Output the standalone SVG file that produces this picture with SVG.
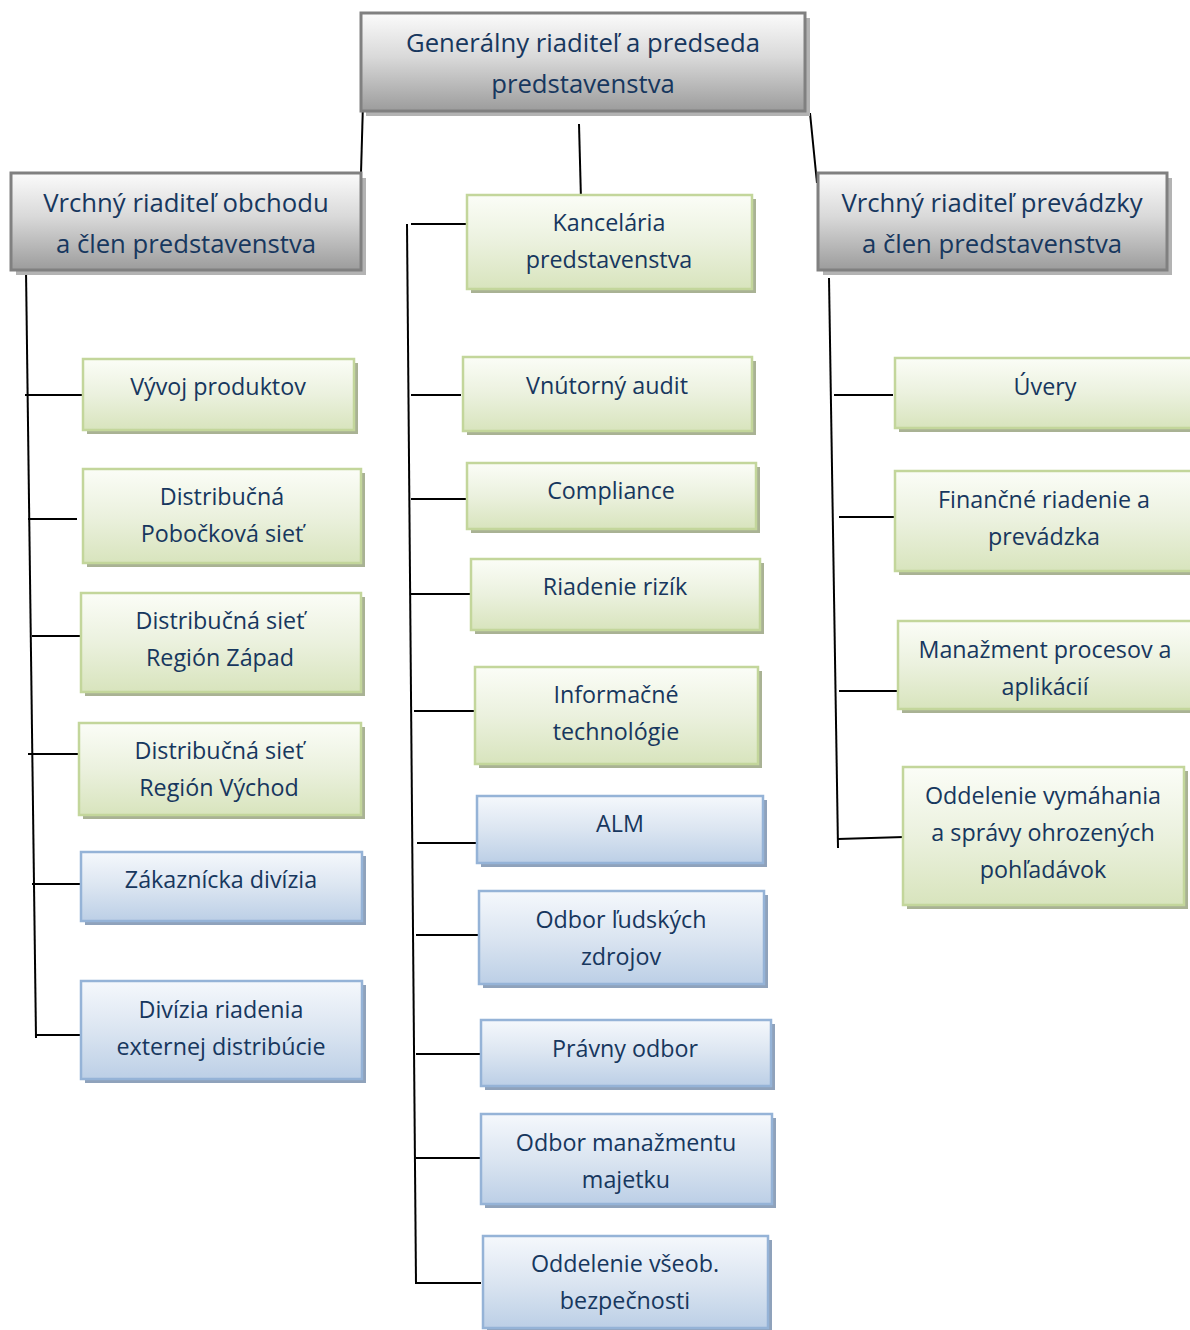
<svg xmlns="http://www.w3.org/2000/svg" width="1190" height="1330" viewBox="0 0 1190 1330">
<defs>
<linearGradient id="gGray" x1="0" y1="0" x2="0" y2="1">
<stop offset="0" stop-color="#fbfbfb"/><stop offset="0.45" stop-color="#d9d9d9"/><stop offset="1" stop-color="#9c9c9c"/>
</linearGradient>
<linearGradient id="gGreen" x1="0" y1="0" x2="0" y2="1">
<stop offset="0" stop-color="#fbfdf7"/><stop offset="0.5" stop-color="#ebf1de"/><stop offset="1" stop-color="#d8e4bd"/>
</linearGradient>
<linearGradient id="gBlue" x1="0" y1="0" x2="0" y2="1">
<stop offset="0" stop-color="#f5f8fc"/><stop offset="0.5" stop-color="#dbe5f1"/><stop offset="1" stop-color="#bccfe6"/>
</linearGradient>
</defs>
<style>
.t{font-family:"Open Sans","Noto Sans","Liberation Sans",sans-serif;fill:#17375e;text-anchor:middle;dominant-baseline:central}
.big{font-size:25.7px}
.sm{font-size:23.3px}
.gray{fill:url(#gGray);stroke:#808080;stroke-width:3}
.grayS{fill:#b3b3b3}
.green{fill:url(#gGreen);stroke:#c3d69b;stroke-width:2.5}
.greenS{fill:#a9b294}
.blue{fill:url(#gBlue);stroke:#95b3d7;stroke-width:2.5}
.blueS{fill:#8fa2bb}
.c{stroke:#000;stroke-width:2;fill:none}
</style>
<g id="connectors">
<line class="c" x1="363" y1="103" x2="361" y2="173"/>
<line class="c" x1="579" y1="124" x2="581" y2="200"/>
<line class="c" x1="810" y1="113" x2="817" y2="183"/>
<line class="c" x1="26" y1="270" x2="36" y2="1038"/>
<line class="c" x1="25" y1="395" x2="82" y2="395"/>
<line class="c" x1="28" y1="519" x2="77" y2="519"/>
<line class="c" x1="32" y1="636" x2="80" y2="636"/>
<line class="c" x1="28" y1="754" x2="78" y2="754"/>
<line class="c" x1="32" y1="884" x2="84" y2="884"/>
<line class="c" x1="35" y1="1035" x2="84" y2="1035"/>
<line class="c" x1="407" y1="224" x2="416" y2="1284"/>
<line class="c" x1="411" y1="224" x2="466" y2="224"/>
<line class="c" x1="411" y1="395" x2="461" y2="395"/>
<line class="c" x1="411" y1="499" x2="466" y2="499"/>
<line class="c" x1="411" y1="594" x2="474" y2="594"/>
<line class="c" x1="414" y1="711" x2="475" y2="711"/>
<line class="c" x1="417" y1="843" x2="476" y2="843"/>
<line class="c" x1="416" y1="935" x2="478" y2="935"/>
<line class="c" x1="416" y1="1054" x2="481" y2="1054"/>
<line class="c" x1="416" y1="1158" x2="480" y2="1158"/>
<line class="c" x1="417" y1="1283" x2="481" y2="1283"/>
<line class="c" x1="829" y1="278" x2="838" y2="848"/>
<line class="c" x1="834" y1="395" x2="893" y2="395"/>
<line class="c" x1="839" y1="517" x2="895" y2="517"/>
<line class="c" x1="839" y1="691" x2="898" y2="691"/>
<line class="c" x1="838" y1="839" x2="904" y2="837"/>
</g>
<g id="ceo">
<rect class="grayS" x="366" y="18" width="444" height="98"/>
<rect class="gray" x="361" y="13" width="444" height="98"/>
<text class="t big" x="583" y="42">Generálny riaditeľ a predseda</text>
<text class="t big" x="583" y="83">predstavenstva</text>
</g>
<g id="vp-obchod">
<rect class="grayS" x="16" y="178" width="350" height="97"/>
<rect class="gray" x="11" y="173" width="350" height="97"/>
<text class="t big" x="186" y="202">Vrchný riaditeľ obchodu</text>
<text class="t big" x="186" y="243">a člen predstavenstva</text>
</g>
<g id="vp-prevadzka">
<rect class="grayS" x="823" y="178" width="349" height="97"/>
<rect class="gray" x="818" y="173" width="349" height="97"/>
<text class="t big" x="992" y="202">Vrchný riaditeľ prevádzky</text>
<text class="t big" x="992" y="243">a člen predstavenstva</text>
</g>
<g id="vyvoj">
<rect class="greenS" x="87" y="363" width="271" height="71"/>
<rect class="green" x="83" y="359" width="271" height="71"/>
<text class="t sm" x="218" y="386">Vývoj produktov</text>
</g>
<g id="pobockova">
<rect class="greenS" x="87" y="473" width="278" height="94"/>
<rect class="green" x="83" y="469" width="278" height="94"/>
<text class="t sm" x="222" y="496">Distribučná</text>
<text class="t sm" x="222" y="533">Pobočková sieť</text>
</g>
<g id="zapad">
<rect class="greenS" x="85" y="597" width="280" height="99"/>
<rect class="green" x="81" y="593" width="280" height="99"/>
<text class="t sm" x="220" y="620">Distribučná sieť</text>
<text class="t sm" x="220" y="657">Región Západ</text>
</g>
<g id="vychod">
<rect class="greenS" x="83" y="727" width="282" height="92"/>
<rect class="green" x="79" y="723" width="282" height="92"/>
<text class="t sm" x="219" y="750">Distribučná sieť</text>
<text class="t sm" x="219" y="787">Región Východ</text>
</g>
<g id="zakaznicka">
<rect class="blueS" x="85" y="856" width="281" height="69"/>
<rect class="blue" x="81" y="852" width="281" height="69"/>
<text class="t sm" x="221" y="879">Zákaznícka divízia</text>
</g>
<g id="externa">
<rect class="blueS" x="85" y="985" width="281" height="98"/>
<rect class="blue" x="81" y="981" width="281" height="98"/>
<text class="t sm" x="221" y="1009">Divízia riadenia</text>
<text class="t sm" x="221" y="1046">externej distribúcie</text>
</g>
<g id="kancelaria">
<rect class="greenS" x="471" y="199" width="285" height="94"/>
<rect class="green" x="467" y="195" width="285" height="94"/>
<text class="t sm" x="609" y="222">Kancelária</text>
<text class="t sm" x="609" y="259">predstavenstva</text>
</g>
<g id="audit">
<rect class="greenS" x="467" y="361" width="289" height="74"/>
<rect class="green" x="463" y="357" width="289" height="74"/>
<text class="t sm" x="607" y="385">Vnútorný audit</text>
</g>
<g id="compliance">
<rect class="greenS" x="471" y="467" width="289" height="66"/>
<rect class="green" x="467" y="463" width="289" height="66"/>
<text class="t sm" x="611" y="490">Compliance</text>
</g>
<g id="rizika">
<rect class="greenS" x="475" y="563" width="289" height="71"/>
<rect class="green" x="471" y="559" width="289" height="71"/>
<text class="t sm" x="615" y="586">Riadenie rizík</text>
</g>
<g id="it">
<rect class="greenS" x="479" y="671" width="283" height="97"/>
<rect class="green" x="475" y="667" width="283" height="97"/>
<text class="t sm" x="616" y="694">Informačné</text>
<text class="t sm" x="616" y="731">technológie</text>
</g>
<g id="alm">
<rect class="blueS" x="481" y="800" width="286" height="67"/>
<rect class="blue" x="477" y="796" width="286" height="67"/>
<text class="t sm" x="620" y="823">ALM</text>
</g>
<g id="hr">
<rect class="blueS" x="483" y="895" width="285" height="93"/>
<rect class="blue" x="479" y="891" width="285" height="93"/>
<text class="t sm" x="621" y="919">Odbor ľudských</text>
<text class="t sm" x="621" y="956">zdrojov</text>
</g>
<g id="pravny">
<rect class="blueS" x="485" y="1024" width="290" height="66"/>
<rect class="blue" x="481" y="1020" width="290" height="66"/>
<text class="t sm" x="625" y="1048">Právny odbor</text>
</g>
<g id="majetok">
<rect class="blueS" x="485" y="1118" width="291" height="90"/>
<rect class="blue" x="481" y="1114" width="291" height="90"/>
<text class="t sm" x="626" y="1142">Odbor manažmentu</text>
<text class="t sm" x="626" y="1179">majetku</text>
</g>
<g id="bezpecnost">
<rect class="blueS" x="487" y="1240" width="285" height="92"/>
<rect class="blue" x="483" y="1236" width="285" height="92"/>
<text class="t sm" x="625" y="1263">Oddelenie všeob.</text>
<text class="t sm" x="625" y="1300">bezpečnosti</text>
</g>
<g id="uvery">
<rect class="greenS" x="899" y="362" width="295" height="70"/>
<rect class="green" x="895" y="358" width="297" height="70"/>
<text class="t sm" x="1045" y="386">Úvery</text>
</g>
<g id="financne">
<rect class="greenS" x="899" y="475" width="295" height="100"/>
<rect class="green" x="895" y="471" width="297" height="100"/>
<text class="t sm" x="1044" y="499">Finančné riadenie a</text>
<text class="t sm" x="1044" y="536">prevádzka</text>
</g>
<g id="procesy">
<rect class="greenS" x="902" y="625" width="292" height="88"/>
<rect class="green" x="898" y="621" width="294" height="88"/>
<text class="t sm" x="1045" y="649">Manažment procesov a</text>
<text class="t sm" x="1045" y="686">aplikácií</text>
</g>
<g id="vymahanie">
<rect class="greenS" x="907" y="771" width="281" height="138"/>
<rect class="green" x="903" y="767" width="281" height="138"/>
<text class="t sm" x="1043" y="795">Oddelenie vymáhania</text>
<text class="t sm" x="1043" y="832">a správy ohrozených</text>
<text class="t sm" x="1043" y="869">pohľadávok</text>
</g>
</svg>
